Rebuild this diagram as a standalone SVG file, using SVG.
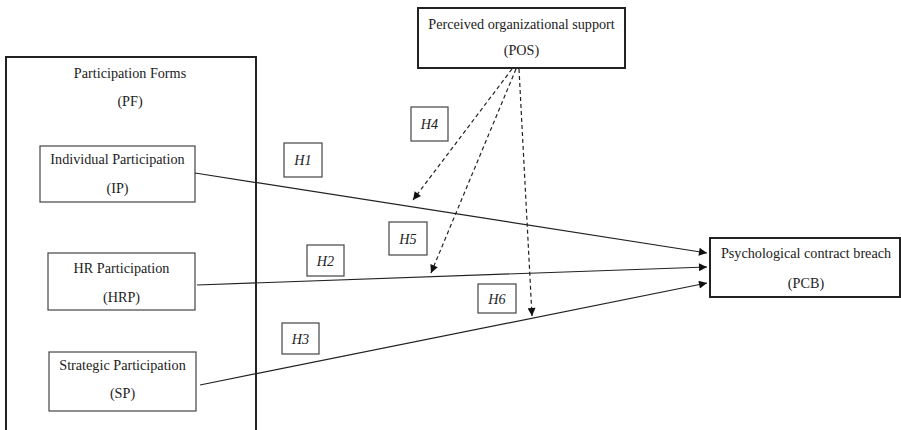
<svg xmlns="http://www.w3.org/2000/svg" width="901" height="430" viewBox="0 0 901 430">
<style>
text{font-family:"Liberation Serif","Times New Roman",serif;font-size:14.2px;fill:#222;text-anchor:middle}
.h{font-style:italic}
.thick{fill:#fff;stroke:#222;stroke-width:2}
.thin{fill:#fff;stroke:#444;stroke-width:1.2}
.conn{stroke:#222;stroke-width:1.2;fill:none}
.dash{stroke:#222;stroke-width:1.2;fill:none;stroke-dasharray:4 3}
</style>
<defs>
<marker id="ah" viewBox="0 0 10 10" refX="10" refY="5" markerWidth="10" markerHeight="8" markerUnits="userSpaceOnUse" orient="auto">
<path d="M0,0 L10,5 L0,10 z" fill="#111"/>
</marker>
</defs>
<rect width="901" height="430" fill="#fff"/>
<g id="PF">
<rect class="thick" x="6" y="57" width="250" height="390"/>
<text x="130" y="78">Participation Forms</text>
<text x="130" y="106">(PF)</text>
</g>
<g id="IP">
<rect class="thin" x="40" y="146" width="155" height="56"/>
<text x="117.5" y="164">Individual Participation</text>
<text x="117.5" y="193">(IP)</text>
</g>
<g id="HRP">
<rect class="thin" x="48" y="253" width="147" height="57"/>
<text x="121.5" y="273">HR Participation</text>
<text x="121.5" y="302">(HRP)</text>
</g>
<g id="SP">
<rect class="thin" x="49" y="352" width="147" height="59"/>
<text x="122.5" y="370">Strategic Participation</text>
<text x="122.5" y="398">(SP)</text>
</g>
<g id="POS">
<rect class="thick" x="418" y="8" width="207" height="60"/>
<text x="521.5" y="29">Perceived organizational support</text>
<text x="521.5" y="55">(POS)</text>
</g>
<g id="PCB">
<rect class="thick" x="710" y="238" width="190" height="59"/>
<text x="806" y="258">Psychological contract breach</text>
<text x="806" y="288">(PCB)</text>
</g>
<g id="connectors">
<line class="conn" x1="195" y1="173" x2="707" y2="253" marker-end="url(#ah)"/>
<line class="conn" x1="197" y1="285" x2="707" y2="267" marker-end="url(#ah)"/>
<line class="conn" x1="200" y1="385" x2="707" y2="283" marker-end="url(#ah)"/>
<line class="dash" x1="512" y1="69" x2="413" y2="200" marker-end="url(#ah)"/>
<line class="dash" x1="516" y1="69" x2="431" y2="273" marker-end="url(#ah)"/>
<line class="dash" x1="519" y1="69" x2="532" y2="316" marker-end="url(#ah)"/>
</g>
<g id="H1">
<rect class="thin" x="284" y="143" width="38" height="34"/>
<text class="h" x="303" y="165">H1</text>
</g>
<g id="H2">
<rect class="thin" x="307" y="245" width="37" height="31"/>
<text class="h" x="325.5" y="265.5">H2</text>
</g>
<g id="H3">
<rect class="thin" x="282" y="323" width="37" height="31"/>
<text class="h" x="300.5" y="343.5">H3</text>
</g>
<g id="H4">
<rect class="thin" x="411" y="107" width="37" height="34"/>
<text class="h" x="429.5" y="129">H4</text>
</g>
<g id="H5">
<rect class="thin" x="389" y="222" width="38" height="33"/>
<text class="h" x="408" y="243.5">H5</text>
</g>
<g id="H6">
<rect class="thin" x="478" y="284" width="38" height="29"/>
<text class="h" x="497" y="303.5">H6</text>
</g>
</svg>
